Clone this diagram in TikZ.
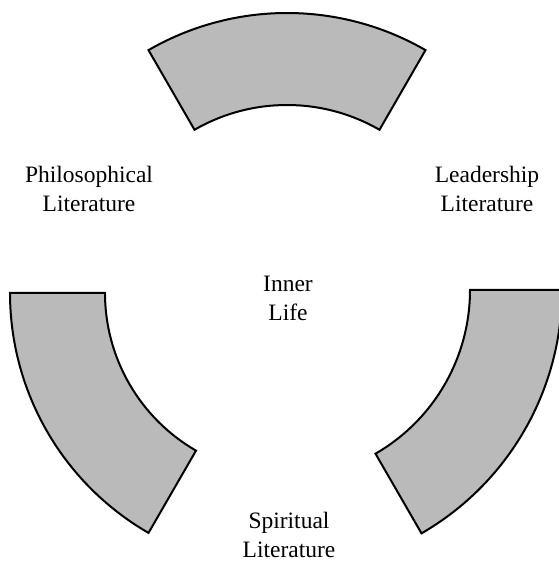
\documentclass[tikz,border=0pt]{standalone}
\usepackage{fontspec}
\setmainfont{Liberation Serif}
\begin{document}
\begin{tikzpicture}[x=1pt,y=1pt,
  sector/.style={draw=black, line width=2pt, fill=black!27, line join=miter},
  lbl/.style={font=\fontsize{23.5}{29}\selectfont, align=center, inner sep=0pt, anchor=center}]
\useasboundingbox (0,0) rectangle (559,563);
\coordinate (ct) at (287,273);
\coordinate (cl) at (287,270);
\coordinate (cr) at (281,273);
% top sector
\draw[sector] ([shift={(60:185pt)}]ct) arc[start angle=60, end angle=120, radius=185pt]
  -- ([shift={(120:277pt)}]ct) arc[start angle=120, end angle=60, radius=277pt] -- cycle;
% left sector
\draw[sector] ([shift={(180:182pt)}]cl) arc[start angle=180, end angle=240, radius=182pt]
  -- ([shift={(240:277pt)}]cl) arc[start angle=240, end angle=180, radius=277pt] -- cycle;
% right sector
\draw[sector] ([shift={(300:189pt)}]cr) arc[start angle=300, end angle=360, radius=189pt]
  -- ([shift={(360:281pt)}]cr) arc[start angle=360, end angle=300, radius=281pt] -- cycle;
\node[lbl] (phil) at (89,374.5) {Philosophical\\Literature};
\node[lbl] (lead) at (487,374.5) {Leadership\\Literature};
\node[lbl] (inner) at (288,264.5) {Inner\\Life};
\node[lbl] (spir) at (289,28.5) {Spiritual\\Literature};
\end{tikzpicture}
\end{document}
